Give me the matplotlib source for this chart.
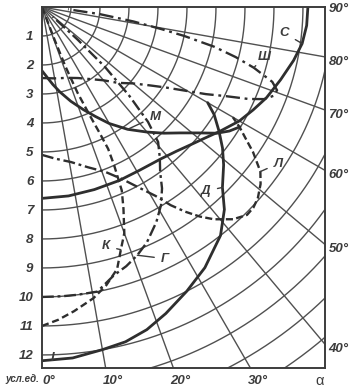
import numpy as np
import matplotlib
matplotlib.use("Agg")
import matplotlib.pyplot as plt

plt.rcParams['font.family'] = ['Liberation Sans', 'DejaVu Sans']

# поле графика в условных единицах (ширина, высота)
W, H = 9.76, 12.45

# подписи осей
left_ticks = list(range(1, 13))
bottom_angles = [0, 10, 20, 30]
right_angles = [40, 50, 60, 70, 80, 90]
grid_radii = list(range(1, 16))
grid_angles = [10, 20, 30, 40, 50, 60, 70, 80]

# кривые силы света: угол (град) и сила света (усл. ед.)
alpha_D = [0, 5, 10, 14, 18, 22, 27, 32, 38, 42, 45, 49, 52, 55, 58, 60]
I_D = [12.2, 12.15, 12.0, 11.9, 11.7, 11.4, 11.0, 10.6, 10.0, 9.4, 8.8, 8.3,
       7.9, 7.45, 7.0, 6.6]

alpha_K = [0, 3, 6, 10, 13, 16, 18, 20, 22, 23.5, 24.5, 25, 24.6, 23.8, 22.5,
           21.5, 21, 20.5]
I_K = [11.0, 10.8, 10.55, 10.2, 9.85, 9.4, 8.8, 8.3, 7.5, 6.9, 6.0, 5.4, 4.8,
       4.1, 3.2, 2.2, 1.2, 0.0]

alpha_G = [0, 4, 7, 11, 15, 18, 21, 24, 28, 31, 33.5, 35.6, 38, 40.7, 42.7,
           44.5, 46.4, 47.5, 48]
I_G = [10.0, 10.0, 10.0, 10.0, 9.58, 9.4, 9.17, 8.89, 8.4, 7.97, 7.5, 7.0,
       6.6, 6.14, 5.39, 4.3, 3.0, 1.68, 0.5]

alpha_L = [0, 5, 10.6, 16, 21, 25, 28, 31, 33, 35, 37, 39, 42, 44.6, 46.5,
           48.5, 51, 53, 55.5, 57, 58.6, 60]
I_L = [5.1, 5.25, 5.44, 5.75, 6.09, 6.55, 7.03, 7.6, 8.15, 8.62, 9.05, 9.42,
       9.85, 10.07, 10.05, 9.94, 9.7, 9.43, 8.83, 8.4, 8.0, 7.6]
L_split = 9  # до этой точки штрихпунктир

alpha_M = [0, 4, 8, 12, 17, 22, 26, 30, 35, 40, 44, 47.6, 51, 54.2, 56.5, 58.8]
I_M = [2.2, 2.42, 2.7, 3.0, 3.4, 3.82, 4.2, 4.64, 5.15, 5.63, 6.05, 6.44, 6.9,
       7.44, 7.75, 7.98]

alpha_Sh = [0, 10, 20, 27, 34, 40, 45, 50, 54, 57, 60, 62, 64, 66, 67.5, 69,
            70.5, 72, 74, 75.5, 77, 78.5, 79.5, 81, 83, 85]
I_Sh = [2.45, 2.5, 2.6, 2.75, 3.0, 3.3, 3.7, 4.1, 4.6, 5.1, 5.8, 6.4, 7.0, 7.8,
        8.3, 8.55, 8.6, 8.35, 7.6, 6.9, 6.1, 5.0, 4.2, 3.2, 2.0, 0.9]

alpha_S = [0, 8, 16, 24, 31, 38, 43, 47, 51, 55, 60, 64, 68, 73, 78, 82, 86, 90]
I_S = [6.6, 6.58, 6.55, 6.55, 6.56, 6.65, 6.8, 6.98, 7.2, 7.48, 7.86, 8.1,
       8.35, 8.6, 8.87, 9.06, 9.15, 9.17]

ink = '#3c3c3c'
line_ink = '#2e2e2e'


def to_xy(alpha, inten):
    a = np.radians(np.asarray(alpha, dtype=float))
    r = np.asarray(inten, dtype=float)
    return r * np.sin(a), r * np.cos(a)


fig = plt.figure(figsize=(3.56, 3.87), dpi=100)
ax = fig.add_axes([42 / 356, 1 - 368 / 387, 283 / 356, 361 / 387])
ax.set_xlim(0, W)
ax.set_ylim(H, 0)
ax.set_xticks([])
ax.set_yticks([])
for s in ax.spines.values():
    s.set_linewidth(1.4)
    s.set_color(ink)

# сетка: окружности и лучи
th = np.linspace(0, 90, 200)
for r in grid_radii:
    gx, gy = to_xy(th, np.full_like(th, r))
    ax.plot(gx, gy, color='#505050', lw=1.0)
for a in grid_angles:
    gx, gy = to_xy([a, a], [0, 20])
    ax.plot(gx, gy, color='#505050', lw=1.0)

# кривые
dashdot = (0, (5, 1.6, 1.2, 1.6))
curves = {
    'D': (alpha_D, I_D, dict(ls='-', lw=2.0)),
    'M': (alpha_M, I_M, dict(ls='-', lw=2.0)),
    'S': (alpha_S, I_S, dict(ls='-', lw=2.0)),
    'K': (alpha_K, I_K, dict(ls=(0, (3, 1.6)), lw=1.7)),
    'G': (alpha_G, I_G, dict(ls=dashdot, lw=1.7)),
    'Sh': (alpha_Sh, I_Sh, dict(ls=(0, (6, 2, 1.2, 2)), lw=1.7)),
}
pts = {}
for key, (al, iv, st) in curves.items():
    cx, cy = to_xy(al, iv)
    pts[key] = (cx, cy)
    ax.plot(cx, cy, color=line_ink, solid_capstyle='round', **st)

lx, ly = to_xy(alpha_L, I_L)
pts['L'] = (lx, ly)
ax.plot(lx[:L_split + 1], ly[:L_split + 1], color=line_ink, lw=1.7, ls=dashdot)
ax.plot(lx[L_split:], ly[L_split:], color=line_ink, lw=1.7, ls=(0, (3, 1.4)))

alphas = {'D': alpha_D, 'M': alpha_M, 'S': alpha_S, 'K': alpha_K,
          'G': alpha_G, 'L': alpha_L, 'Sh': alpha_Sh}

# подписи кривых
lab = dict(fontsize=9.5, style='italic', fontweight='bold', color=ink,
           ha='center', va='center')
arr = dict(arrowstyle='-', color=ink, lw=1.0, shrinkA=3, shrinkB=0)
for key, text, ang, pos in [('S', 'С', 82, (8.35, 0.9)),
                            ('Sh', 'Ш', 74, (7.65, 1.72)),
                            ('M', 'М', 35, (3.9, 3.78)),
                            ('L', 'Л', 53, (8.15, 5.4)),
                            ('D', 'Д', 45, (5.65, 6.35)),
                            ('K', 'К', 18, (2.2, 8.25)),
                            ('G', 'Г', 21, (4.25, 8.68))]:
    cx, cy = pts[key]
    idx = int(np.argmin(np.abs(np.asarray(alphas[key]) - ang)))
    ax.annotate(text, xy=(cx[idx], cy[idx]), xytext=pos, arrowprops=arr, **lab)
ax.text(0.35, 12.12, 'I', **lab)

# шкалы
num = dict(fontsize=9.5, style='italic', fontweight='bold', color=ink)
for n in left_ticks:
    ax.text(-0.3, n + 0.05, str(n), ha='right', va='center', clip_on=False, **num)
for a in bottom_angles:
    ax.text(H * np.tan(np.radians(a)) + 0.25, H + 0.45, f'{a}°', ha='center',
            va='center', clip_on=False, **num)
ax.text(W - 0.2, H + 0.45, 'α', ha='center', va='center', clip_on=False,
        fontsize=10.5, color=ink)
for a in right_angles:
    yy = 0.08 if a == 90 else W / np.tan(np.radians(a)) + 0.17
    ax.text(W + 0.12, yy, f'{a}°', ha='left', va='center', clip_on=False, **num)
ax.text(-0.08, H + 0.38, 'усл.ед.', ha='right', va='center', clip_on=False,
        fontsize=7, style='italic', fontweight='bold', color=ink)

fig.savefig('out.png', dpi=100)
